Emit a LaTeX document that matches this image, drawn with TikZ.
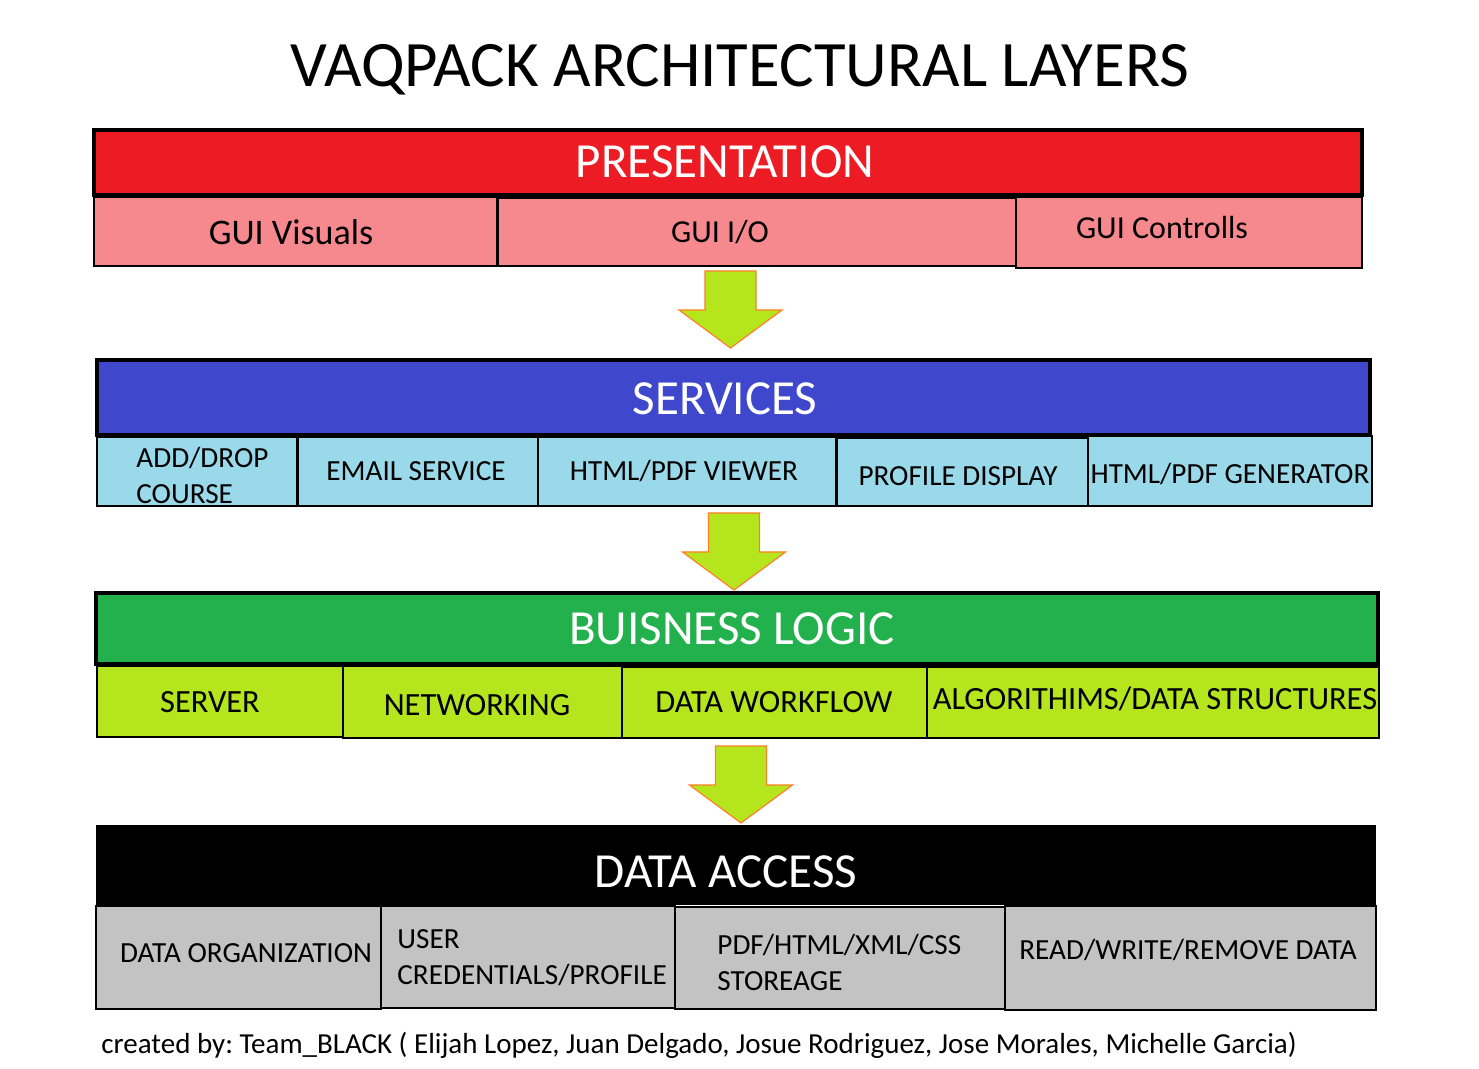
\documentclass[tikz,border=0pt]{standalone}
\usepackage{fontspec}
\setmainfont{Carlito}
\usetikzlibrary{fit}
\definecolor{presred}{HTML}{ED1C24}
\definecolor{prespink}{HTML}{F5898E}
\definecolor{servblue}{HTML}{3F48CC}
\definecolor{servlight}{HTML}{99D9EA}
\definecolor{bizgreen}{HTML}{22B14C}
\definecolor{bizlime}{HTML}{B5E61D}
\definecolor{datagray}{HTML}{C3C3C3}
\definecolor{arroworange}{HTML}{FF7F27}
\frenchspacing
\begin{document}
\begin{tikzpicture}[x=0.5pt,y=-0.5pt,
  layerbar/.style={draw=black, line width=1.8pt, inner sep=0pt},
  subbox/.style={draw=black, line width=0.7pt, inner sep=0pt},
  layertxt/.style={text=white, font=\fontsize{24.5}{28}\selectfont, inner sep=0pt},
  subtxt/.style={font=\fontsize{14.6}{18}\selectfont, inner sep=0pt},
  biztxt/.style={font=\fontsize{16.2}{20}\selectfont, inner sep=0pt},
  guitxt/.style={font=\fontsize{16}{20}\selectfont, inner sep=0pt},
  flowarrow/.style={fill=bizlime, draw=arroworange, line width=0.6pt, line join=miter},
  downarrow/.pic={\draw[flowarrow] (-25.5,0) -- (25.5,0) -- (25.5,39) -- (51.5,39)
      -- (0,77) -- (-51.5,39) -- (-25.5,39) -- cycle;}
]
\useasboundingbox (0,0) rectangle (1479,1069);

% title
\node[font=\fontsize{32.4}{38}\selectfont, inner sep=0pt] (title) at (740,70) {VAQPACK ARCHITECTURAL LAYERS};

% ---- presentation layer
\node[layerbar, fill=presred, fit={(94,130)(1362,195)}] (pres) {};
\node[layertxt] (presT) at (725,162) {PRESENTATION};
\node[subbox, fill=prespink, fit={(94,197)(497,266)}] (guiv) {};
\node[subbox, fill=prespink, fit={(498,198)(1016,266)}] (guiio) {};
\node[subbox, fill=prespink, fit={(1016,197)(1362,268)}] (guic) {};
\node[font=\fontsize{18}{22}\selectfont, inner sep=0pt] (guivT) at (291,232) {GUI Visuals};
\node[guitxt] (guiioT) at (720,232) {GUI I/O};
\node[guitxt] (guicT) at (1162,228) {GUI Controlls};

\pic (arrA) at (730.5,271) {downarrow};

% ---- services layer
\node[layerbar, fill=servblue, fit={(97,360)(1370,435)}] (serv) {};
\node[layertxt] (servT) at (725,399) {SERVICES};
\node[subbox, fill=servlight, fit={(97,437)(297,506)}] (adddrop) {};
\node[subbox, fill=servlight, fit={(298,437)(538,506)}] (email) {};
\node[subbox, fill=servlight, fit={(538,437)(836,506)}] (viewer) {};
\node[subbox, fill=servlight, fit={(837,438)(1088,506)}] (profile) {};
\node[subbox, fill=servlight, fit={(1088,436)(1372,506)}] (generator) {};
\node[subtxt, align=left, anchor=west] (adddropT) at (136,475) {ADD/DROP\\COURSE};
\node[subtxt] (emailT) at (416,471) {EMAIL SERVICE};
\node[subtxt] (viewerT) at (684,471) {HTML/PDF VIEWER};
\node[subtxt] (profileT) at (958,476) {PROFILE DISPLAY};
\node[subtxt] (generatorT) at (1230,474) {HTML/PDF GENERATOR};

\pic (arrB) at (734,513) {downarrow};

% ---- business logic layer
\node[layerbar, fill=bizgreen, fit={(96,593)(1378,664)}] (biz) {};
\node[layertxt] (bizT) at (732,629) {BUISNESS LOGIC};
\node[subbox, fill=bizlime, fit={(97,666)(343,737)}] (server) {};
\node[subbox, fill=bizlime, fit={(343,666)(622,738)}] (network) {};
\node[subbox, fill=bizlime, fit={(622,667)(927,738)}] (workflow) {};
\node[subbox, fill=bizlime, fit={(927,667)(1379,738)}] (algo) {};
\node[biztxt] (serverT) at (210,702) {SERVER};
\node[biztxt] (networkT) at (477,705) {NETWORKING};
\node[biztxt] (workflowT) at (774,702) {DATA WORKFLOW};
\node[biztxt] (algoT) at (1155,699) {ALGORITHIMS/DATA STRUCTURES};

\pic (arrC) at (741,746) {downarrow};

% ---- data access layer
\node[fill=black, inner sep=0pt, fit={(96,825)(1376,905)}] (data) {};
\node[layertxt] (dataT) at (726,872) {DATA ACCESS};
\node[subbox, fill=datagray, fit={(96,906)(381,1009)}] (org) {};
\node[subbox, fill=datagray, fit={(381,906)(675,1008)}] (cred) {};
\node[subbox, fill=datagray, fit={(675,907)(1005,1009)}] (store) {};
\node[subbox, fill=datagray, fit={(1005,906)(1376,1010)}] (rw) {};
\node[subtxt] (orgT) at (246,953) {DATA ORGANIZATION};
\node[subtxt, align=left, anchor=west] (credT) at (397,958) {USER\\CREDENTIALS/PROFILE};
\node[subtxt, align=left, anchor=west] (storeT) at (717,962) {PDF/HTML/XML/CSS\\STOREAGE};
\node[subtxt] (rwT) at (1188,950) {READ/WRITE/REMOVE DATA};

% credits
\node[font=\fontsize{14.5}{17}\selectfont, inner sep=0pt, anchor=base west] (credits) at (101,1053)
  {created by: Team\_BLACK ( Elijah Lopez, Juan Delgado, Josue Rodriguez, Jose Morales, Michelle Garcia)};
\end{tikzpicture}
\end{document}
